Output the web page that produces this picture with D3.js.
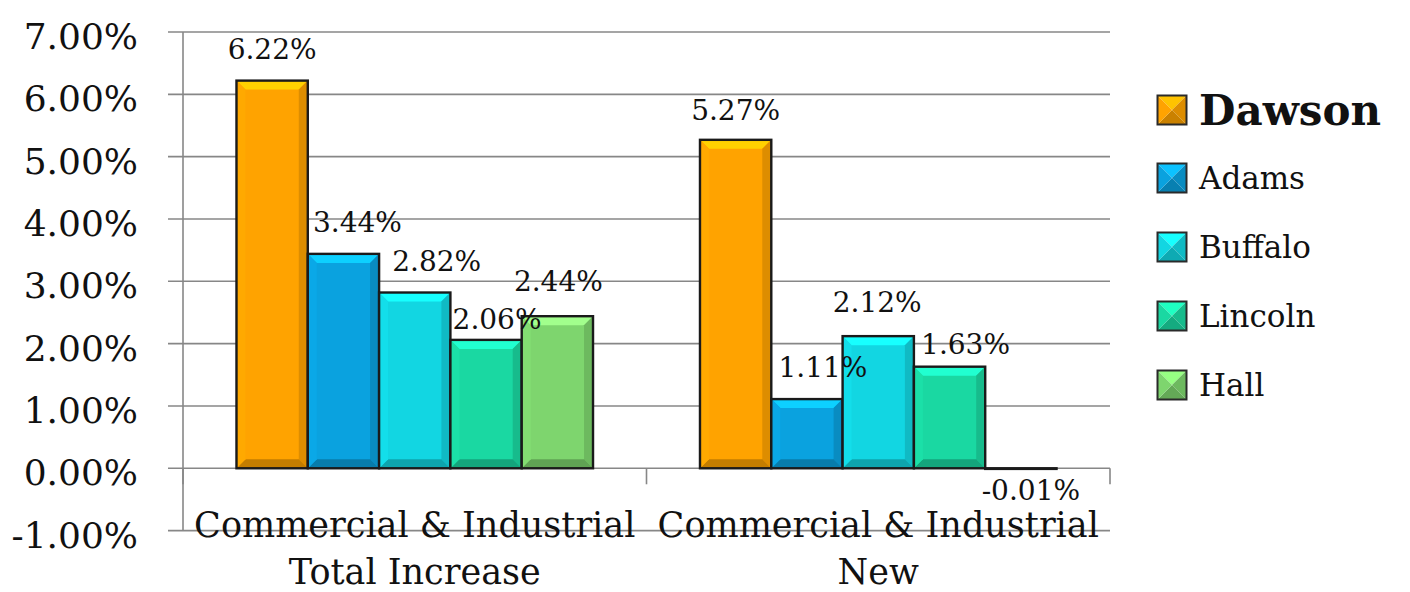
<!DOCTYPE html>
<html>
<head>
<meta charset="utf-8">
<script src="https://cdn.jsdelivr.net/npm/d3@7"></script>
<style>
  html, body { margin: 0; padding: 0; background: #ffffff; }
  svg { display: block; }
  text { font-family: "DejaVu Serif", "Liberation Serif", serif; fill: #111; }
</style>
</head>
<body>
<svg id="chart" width="1410" height="592"></svg>
<script>
// Category groups (two-line labels)
const categories = [
  ["Commercial & Industrial", "Total Increase"],
  ["Commercial & Industrial", "New"]
];
// Counties, one series each
const seriesNames = ["Dawson", "Adams", "Buffalo", "Lincoln", "Hall"];
// Percent change per county, per category
const totalIncrease = [6.22, 3.44, 2.82, 2.06, 2.44];
const newGrowth     = [5.27, 1.11, 2.12, 1.63, -0.01];
// Value-axis ticks
const yTicks = [-1, 0, 1, 2, 3, 4, 5, 6, 7];

const colors = ["#FFA300", "#0AA2DF", "#12D6E2", "#1AD8A2", "#7ED56E"];

// Hand-placed label nudges (dx, dy)
const labelNudge = [
  [[0, 0], [14, 0], [22, 0], [11, 11], [1, -3]],
  [[0, 2], [16, 0], [-1, -2], [16, 9], [10, 0]]
];

const svg = d3.select("#chart");
const plot = { left: 183, right: 1110, top: 32, bottom: 530.6 };

const y = d3.scaleLinear().domain([-1, 7]).range([plot.bottom, plot.top]);
const x0 = d3.scaleBand().domain(d3.range(categories.length)).range([plot.left, plot.right]);
const bw = x0.bandwidth();
const barW = bw / 6.5; // 150% gap width
const x1 = d3.scaleBand().domain(seriesNames).range([0.75 * barW, bw - 0.75 * barW]);

const fmt = v => v.toFixed(2) + "%";

// Gridlines with short outward ticks
svg.append("g").selectAll("line").data(yTicks).join("line")
  .attr("x1", plot.left - 15).attr("x2", plot.right)
  .attr("y1", d => y(d)).attr("y2", d => y(d))
  .attr("stroke", "#878787").attr("stroke-width", 1.6);

// Value axis line
svg.append("line")
  .attr("x1", plot.left).attr("x2", plot.left)
  .attr("y1", plot.top).attr("y2", plot.bottom)
  .attr("stroke", "#878787").attr("stroke-width", 1.6);

// Category tick marks on the zero line
svg.append("g").selectAll("line").data(d3.range(categories.length + 1)).join("line")
  .attr("x1", i => plot.left + i * bw).attr("x2", i => plot.left + i * bw)
  .attr("y1", y(0)).attr("y2", y(0) + 16)
  .attr("stroke", "#878787").attr("stroke-width", 1.6);

// Y tick labels
svg.append("g").selectAll("text").data(yTicks).join("text")
  .attr("x", 138).attr("y", d => y(d) + 17)
  .attr("text-anchor", "end")
  .style("font-size", "36px")
  .text(d => d.toFixed(2) + "%");

// Bevelled bar drawing
function bevelBar(g, x, yTop, w, h, color, b) {
  const c = d3.color(color);
  const light = c.brighter(0.7).formatHex();
  const dark = c.darker(0.75).formatHex();
  const mid = c.darker(0.4).formatHex();
  g.append("rect").attr("x", x).attr("y", yTop).attr("width", w).attr("height", h).attr("fill", color);
  if (h > 2 * b + 2) {
    const yb = yTop + h;
    const polys = [
      [[[x, yTop], [x + w, yTop], [x + w - b, yTop + b], [x + b, yTop + b]], light],
      [[[x + w, yTop], [x + w, yb], [x + w - b, yb - b], [x + w - b, yTop + b]], mid],
      [[[x, yb], [x + w, yb], [x + w - b, yb - b], [x + b, yb - b]], dark],
      [[[x, yTop], [x + b, yTop + b], [x + b, yb - b], [x, yb]], c.brighter(0.1).formatHex()]
    ];
    polys.forEach(([pts, fill]) => {
      g.append("polygon").attr("points", pts.map(p => p.join(",")).join(" ")).attr("fill", fill);
    });
  }
  g.append("rect").attr("x", x).attr("y", yTop).attr("width", w).attr("height", Math.max(h, 0.6))
    .attr("fill", "none").attr("stroke", "#1a1a1a").attr("stroke-width", 2.4);
}

const groups = [totalIncrease, newGrowth];
const barsG = svg.append("g");
const labelsG = svg.append("g");
groups.forEach((vals, ci) => {
  vals.forEach((v, si) => {
    const x = x0(ci) + x1(seriesNames[si]);
    const yTop = y(Math.max(0, v));
    const h = Math.abs(y(v) - y(0));
    bevelBar(barsG, x, yTop, x1.bandwidth(), h, colors[si], 9);
    const [dx, dy] = labelNudge[ci][si];
    const ly = v >= 0 ? y(v) - 22 : y(v) + 31;
    labelsG.append("text")
      .attr("x", x + x1.bandwidth() / 2 + dx)
      .attr("y", ly + dy)
      .attr("text-anchor", "middle")
      .style("font-size", "28px")
      .text(fmt(v));
  });
});

// Category labels
svg.append("g").selectAll("text").data(categories).join("text")
  .attr("text-anchor", "middle")
  .style("font-size", "35px")
  .each(function(lines, i) {
    const t = d3.select(this);
    lines.forEach((ln, k) => {
      t.append("tspan").attr("x", x0(i) + bw / 2).attr("y", 537 + k * 47).text(ln);
    });
  });

// Legend
const legendY = [110, 178, 247, 316, 385];
const lg = svg.append("g");
seriesNames.forEach((name, i) => {
  const cx = 1172, cy = legendY[i], s = 29;
  const x = cx - s / 2, yy = cy - s / 2;
  const c = d3.color(colors[i]);
  const tri = [
    [[[x, yy], [x + s, yy], [cx, cy]], c.brighter(0.5).formatHex()],
    [[[x + s, yy], [x + s, yy + s], [cx, cy]], c.darker(0.4).formatHex()],
    [[[x, yy + s], [x + s, yy + s], [cx, cy]], c.darker(0.65).formatHex()],
    [[[x, yy], [x, yy + s], [cx, cy]], c.formatHex()]
  ];
  tri.forEach(([pts, fill]) => {
    lg.append("polygon").attr("points", pts.map(p => p.join(",")).join(" ")).attr("fill", fill);
  });
  lg.append("rect").attr("x", x).attr("y", yy).attr("width", s).attr("height", s)
    .attr("fill", "none").attr("stroke", "#2a2a2a").attr("stroke-width", 2);
  lg.append("text")
    .attr("x", 1199)
    .attr("y", cy + (i === 0 ? 15 : 11))
    .style("font-size", i === 0 ? "42px" : "31px")
    .style("font-weight", i === 0 ? "bold" : "normal")
    .text(name);
});
</script>
</body>
</html>
